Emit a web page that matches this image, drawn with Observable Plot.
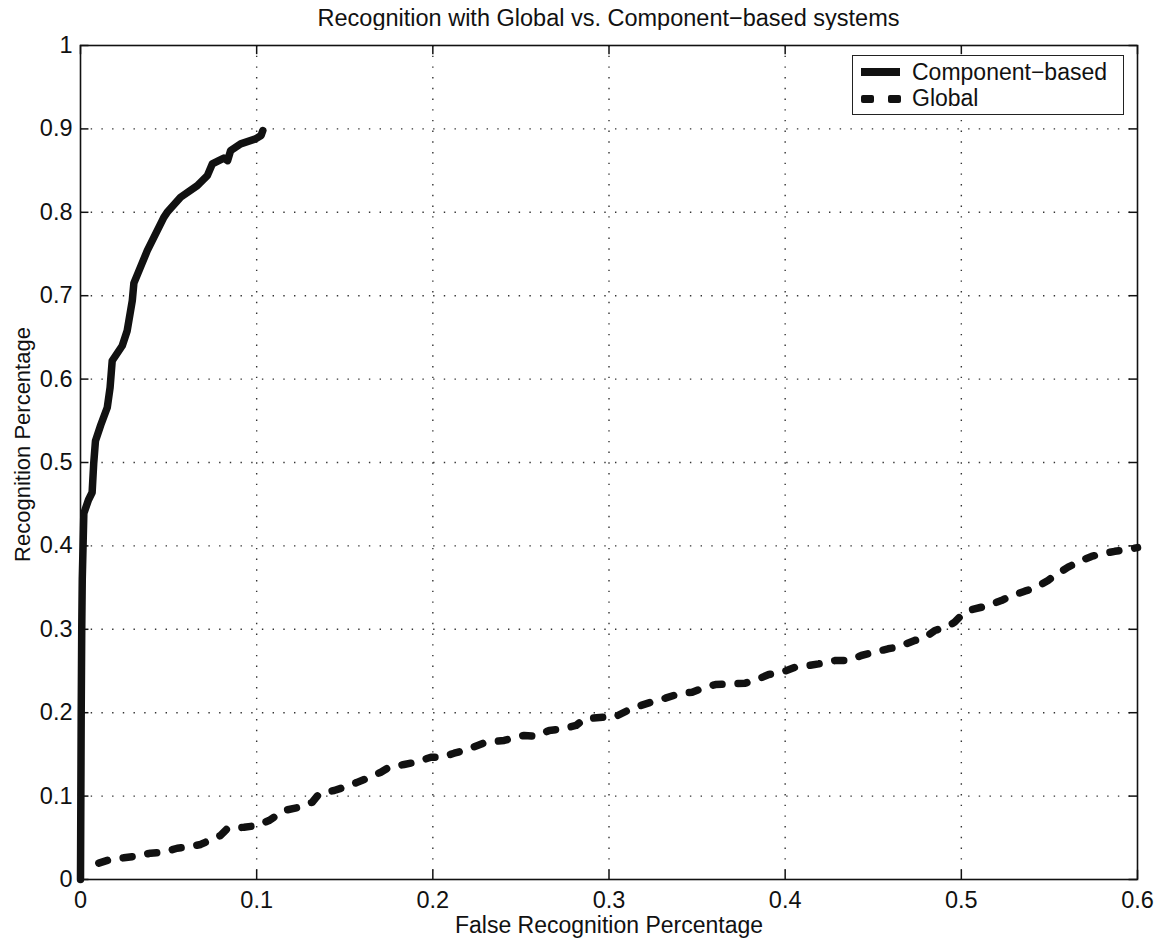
<!DOCTYPE html>
<html>
<head>
<meta charset="utf-8">
<script src="https://cdn.jsdelivr.net/npm/d3@7"></script>
<script src="https://cdn.jsdelivr.net/npm/@observablehq/plot@0.6"></script>
<style>
  body { margin: 0; background: #fff; font-family: "Liberation Sans", Arial, Helvetica, sans-serif; }
  #wrap { position: relative; width: 1155px; height: 945px; }
  #title { position: absolute; left: 80px; width: 1057px; top: 5px; text-align: center; font-size: 23.5px; line-height: 26px; color: #111; white-space: nowrap; }
  #chart { position: absolute; left: 0; top: 30px; }
  #legend { position: absolute; left: 852px; top: 55px; width: 270px; height: 58px; border: 1.3px solid #222; background: #fff; font-size: 23px; color: #111; }
  .solid { position: absolute; left: 8px; top: 12px; width: 39px; height: 8px; background: #111; }
  .dash { position: absolute; top: 39px; width: 13px; height: 8px; background: #111; border-radius: 2px; }
  .lab { position: absolute; left: 59px; white-space: nowrap; line-height: 26px; }
</style>
</head>
<body>
<div id="wrap">
  <div id="title">Recognition with Global vs. Component−based systems</div>
  <div id="chart"></div>
  <div id="legend">
    <div class="solid"></div><div class="lab" style="top:3px">Component−based</div>
    <div class="dash" style="left:8px"></div><div class="dash" style="left:35px"></div><div class="lab" style="top:29px">Global</div>
  </div>
</div>
<script>
// Component-based curve
const compX = [0, 0.0002, 0.0004, 0.0007, 0.001, 0.0019, 0.0045, 0.0066, 0.0075, 0.0085, 0.0115, 0.0152, 0.0168, 0.018, 0.0237, 0.0265, 0.0294, 0.0303, 0.0379, 0.0473, 0.0492, 0.0568, 0.0663, 0.072, 0.0748, 0.0785, 0.0814, 0.0835, 0.0852, 0.0909, 0.0994, 0.1025, 0.1035];
const compY = [0, 0.1, 0.2, 0.3, 0.36, 0.439, 0.455, 0.464, 0.499, 0.526, 0.545, 0.566, 0.59, 0.622, 0.64, 0.658, 0.694, 0.715, 0.754, 0.794, 0.80, 0.818, 0.832, 0.844, 0.858, 0.862, 0.865, 0.862, 0.874, 0.882, 0.888, 0.892, 0.898];

// Global curve
const globX = [0.0104, 0.017, 0.0246, 0.0322, 0.0398, 0.0473, 0.0549, 0.0606, 0.0682, 0.073, 0.0795, 0.0833, 0.0928, 0.1004, 0.107, 0.1155, 0.123, 0.1316, 0.1354, 0.144, 0.1496, 0.1572, 0.162, 0.1705, 0.1752, 0.1837, 0.1903, 0.1989, 0.2045, 0.2121, 0.2178, 0.2254, 0.2301, 0.2405, 0.2472, 0.2519, 0.2585, 0.2661, 0.2737, 0.2813, 0.286, 0.2973, 0.303, 0.3106, 0.3163, 0.3239, 0.332, 0.3396, 0.3472, 0.3547, 0.3604, 0.3698, 0.3774, 0.385, 0.3907, 0.3982, 0.4058, 0.4134, 0.419, 0.4285, 0.436, 0.4432, 0.4489, 0.4584, 0.464, 0.4735, 0.4792, 0.485, 0.4924, 0.4962, 0.5, 0.5057, 0.5152, 0.5227, 0.5265, 0.536, 0.5417, 0.5492, 0.553, 0.5606, 0.5682, 0.5739, 0.5795, 0.5871, 0.5928, 0.6];
const globY = [0.0196, 0.024, 0.026, 0.028, 0.0316, 0.0328, 0.0375, 0.0387, 0.042, 0.0468, 0.0528, 0.061, 0.0627, 0.0647, 0.0707, 0.0827, 0.086, 0.0927, 0.1027, 0.1067, 0.1106, 0.1166, 0.1206, 0.1286, 0.1346, 0.1379, 0.1406, 0.1466, 0.1466, 0.1514, 0.1547, 0.1607, 0.1646, 0.1667, 0.1706, 0.1727, 0.1718, 0.1787, 0.1806, 0.1847, 0.1926, 0.1946, 0.1946, 0.2026, 0.2074, 0.2126, 0.2174, 0.2226, 0.2246, 0.2306, 0.2338, 0.2346, 0.2354, 0.2406, 0.2458, 0.2486, 0.2546, 0.2566, 0.2586, 0.2626, 0.2626, 0.2686, 0.2716, 0.2766, 0.2786, 0.2866, 0.2896, 0.2986, 0.3034, 0.3086, 0.3166, 0.3234, 0.3285, 0.3345, 0.3385, 0.3457, 0.3493, 0.3585, 0.3645, 0.3745, 0.3825, 0.3873, 0.3904, 0.3935, 0.3952, 0.398];

const xTicks = [0, 0.1, 0.2, 0.3, 0.4, 0.5, 0.6];
const yTicks = [0, 0.1, 0.2, 0.3, 0.4, 0.5, 0.6, 0.7, 0.8, 0.9, 1];
const xLabel = "False Recognition Percentage";
const yLabel = "Recognition Percentage";

const comp = compX.map((x, i) => ({x, y: compY[i]}));
const glob = globX.map((x, i) => ({x, y: globY[i]}));

const chart = Plot.plot({
  width: 1155,
  height: 915,
  marginLeft: 80,
  marginRight: 18,
  marginTop: 15,
  marginBottom: 66,
  style: {fontFamily: '"Liberation Sans", Arial, Helvetica, sans-serif', fontSize: "23.5px", color: "#111", background: "#fff"},
  x: {domain: [0, 0.6]},
  y: {domain: [0, 1]},
  marks: [
    Plot.ruleX(xTicks.slice(1, -1), {x: d => d, stroke: "#333", strokeWidth: 1.4, strokeDasharray: "1.4,9.3"}),
    Plot.ruleY(yTicks.slice(1, -1), {y: d => d, stroke: "#333", strokeWidth: 1.4, strokeDasharray: "1.4,9.3"}),
    Plot.axisX(xTicks, {anchor: "bottom", tickSize: 0, tickPadding: 12, label: null, fontSize: 23.5, tickFormat: d3.format("")}),
    Plot.axisY(yTicks, {anchor: "left", tickSize: 0, tickPadding: 8, label: null, fontSize: 23.5, tickFormat: d3.format("")}),
    Plot.ruleX(xTicks, {x: d => d, y1: 0, y2: 0.011, stroke: "#111", strokeWidth: 1.5}),
    Plot.ruleX(xTicks, {x: d => d, y1: 0.989, y2: 1, stroke: "#111", strokeWidth: 1.5}),
    Plot.ruleY(yTicks, {y: d => d, x1: 0, x2: 0.0048, stroke: "#111", strokeWidth: 1.5}),
    Plot.ruleY(yTicks, {y: d => d, x1: 0.5952, x2: 0.6, stroke: "#111", strokeWidth: 1.5}),
    Plot.frame({stroke: "#111", strokeWidth: 1.6}),
    Plot.line(glob, {x: "x", y: "y", stroke: "#111", strokeWidth: 7.5, strokeDasharray: "9,16", strokeLinecap: "round", strokeLinejoin: "round"}),
    Plot.line(comp, {x: "x", y: "y", stroke: "#111", strokeWidth: 7.5, strokeLinecap: "round", strokeLinejoin: "round"}),
    Plot.text([xLabel], {frameAnchor: "bottom", dy: 53, fontSize: 23, fill: "#111"}),
    Plot.text([yLabel], {frameAnchor: "left", dx: -58, dy: -18, rotate: -90, textAnchor: "middle", fontSize: 22, fill: "#111"})
  ]
});
document.getElementById("chart").appendChild(chart);
</script>
</body>
</html>
